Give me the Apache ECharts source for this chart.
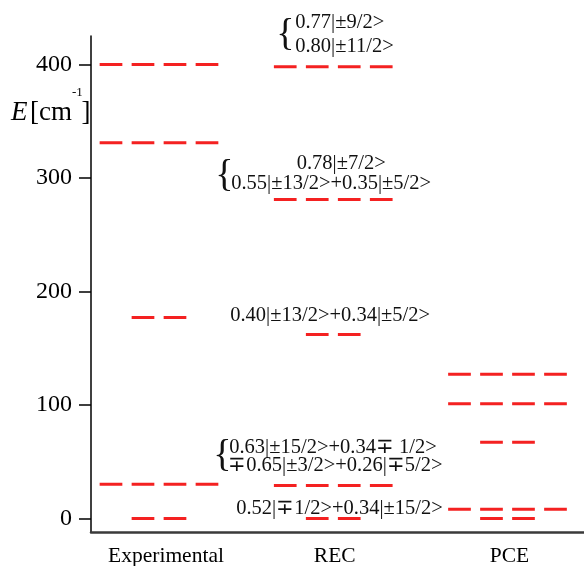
<!DOCTYPE html>
<html><head><meta charset="utf-8">
<script src="https://cdn.jsdelivr.net/npm/echarts@6/dist/echarts.min.js"></script>
<style>html,body{margin:0;padding:0;background:#fff}#c{width:584px;height:566px}</style>
</head><body><div id="c"></div>
<script>
// ---- data ----
const categories = ['Experimental', 'REC', 'PCE'];
const experimentalLevels = [400, 331, 177, 30, 0];
const recLevels = [398, 281, 162, 29, 0];
const pceLevels = [127, 101, 67, 8, 0];
// number of dashes per level (4 = full width, 2 = short)
const experimentalDashes = [4, 4, 2, 4, 2];
const recDashes = [4, 4, 2, 4, 2];
const pceDashes = [4, 4, 2, 4, 2];
const yTicks = [0, 100, 200, 300, 400];
const recAnnotations = [
  ['0.77|±9/2>', '0.80|±11/2>'],
  ['0.78|±7/2>', '0.55|±13/2>+0.35|±5/2>'],
  ['0.40|±13/2>+0.34|±5/2>'],
  ['0.63|±15/2>+0.34\u2213 1/2>', '\u22130.65|±3/2>+0.26|\u22135/2>'],
  ['0.52|\u22131/2>+0.34|±15/2>']
];

// ---- styling / layout (not data) ----
const FONT = '"Liberation Serif", "Times New Roman", serif';
const RED = '#f42121';
const DASH = 22.7, GAP = 9.3;
const labelShift = [14, 3, 4]; // left padding to nudge category labels
const annLayout = [
  { lines: [{ dx: -38, dy: -44, align: 'left' }, { dx: -38, dy: -20, align: 'left' }], brace: { dx: -57, dy: -32 } },
  { lines: [{ dx: 8, dy: -36, align: 'center' }, { dx: -102, dy: -16, align: 'left' }], brace: { dx: -118, dy: -23 } },
  { lines: [{ dx: -103, dy: -19, align: 'left' }] },
  { lines: [{ dx: -104, dy: -38, align: 'left' }, { dx: -105, dy: -20, align: 'left' }], brace: { dx: -120, dy: -29 } },
  { lines: [{ dx: -97, dy: -10, align: 'left' }] }
];

function levelSeries(catIdx, levels, dashes, annotations) {
  return {
    type: 'custom',
    coordinateSystem: 'cartesian2d',
    clip: false,
    silent: true,
    data: levels.map((e, i) => [catIdx, e, dashes[i], i]),
    renderItem: function (params, api) {
      const c = api.coord([api.value(0), api.value(1)]);
      const n = api.value(2);
      const idx = api.value(3);
      const w = n * DASH + (n - 1) * GAP;
      const children = [{
        type: 'line',
        shape: { x1: c[0] - w / 2, y1: c[1], x2: c[0] + w / 2, y2: c[1] },
        style: { stroke: RED, lineWidth: 3, lineDash: [DASH, GAP], lineCap: 'butt' }
      }];
      if (annotations && annotations[idx]) {
        const lay = annLayout[idx];
        annotations[idx].forEach((t, k) => {
          const l = lay.lines[k];
          children.push({
            type: 'text',
            style: {
              text: t, x: c[0] + l.dx, y: c[1] + l.dy,
              fill: '#111', fontSize: 20.5, fontFamily: FONT,
              align: l.align, verticalAlign: 'middle'
            }
          });
        });
        if (lay.brace) {
          children.push({
            type: 'text',
            style: {
              text: '{', x: c[0] + lay.brace.dx, y: c[1] + lay.brace.dy,
              fill: '#111', fontSize: 38, fontFamily: FONT,
              align: 'left', verticalAlign: 'middle'
            }
          });
        }
      }
      return { type: 'group', children: children };
    }
  };
}

const rich = {};
categories.forEach((c, i) => {
  rich['c' + i] = { fontSize: 21.5, fontFamily: FONT, color: '#000', padding: [0, 0, 0, labelShift[i]] };
});

const chart = echarts.init(document.getElementById('c'), null, { renderer: 'canvas' });
chart.setOption({
  animation: false,
  backgroundColor: '#fff',
  grid: { left: 91, right: 0, top: 36, bottom: 34, containLabel: false, outerBoundsMode: 'none' },
  xAxis: {
    type: 'value',
    min: -0.3902, max: 2.4391,
    axisLine: { show: true, onZero: false, lineStyle: { color: '#3a3a3a', width: 2.5 } },
    axisTick: { show: false },
    splitLine: { show: false },
    axisLabel: {
      customValues: [0, 1, 2],
      formatter: v => { const i = Math.round(v); return '{c' + i + '|' + categories[i] + '}'; },
      rich: rich,
      fontSize: 21.5, fontFamily: FONT, color: '#000', margin: 13
    }
  },
  yAxis: {
    type: 'value',
    min: -12, max: 425,
    axisLine: { show: true, onZero: false, lineStyle: { color: '#000', width: 1.5 } },
    axisTick: { show: true, customValues: yTicks, length: 12, inside: false, lineStyle: { color: '#000', width: 1.5 } },
    splitLine: { show: false },
    axisLabel: { customValues: yTicks, fontSize: 24, fontFamily: FONT, color: '#000', margin: 19 }
  },
  graphic: [
    { type: 'text', x: 11, y: 112.6, style: { text: 'E', fontSize: 27, fontStyle: 'italic', fontFamily: FONT, fill: '#000', align: 'left', verticalAlign: 'middle' } },
    { type: 'text', x: 30, y: 112.6, style: { text: '[cm', fontSize: 27, fontFamily: FONT, fill: '#000', align: 'left', verticalAlign: 'middle' } },
    { type: 'text', x: 72, y: 93, style: { text: '-1', fontSize: 13, fontFamily: FONT, fill: '#000', align: 'left', verticalAlign: 'middle' } },
    { type: 'text', x: 81.5, y: 112.6, style: { text: ']', fontSize: 27, fontFamily: FONT, fill: '#000', align: 'left', verticalAlign: 'middle' } }
  ],
  series: [
    levelSeries(0, experimentalLevels, experimentalDashes, null),
    levelSeries(1, recLevels, recDashes, recAnnotations),
    levelSeries(2, pceLevels, pceDashes, null)
  ]
});
</script>
</body></html>
